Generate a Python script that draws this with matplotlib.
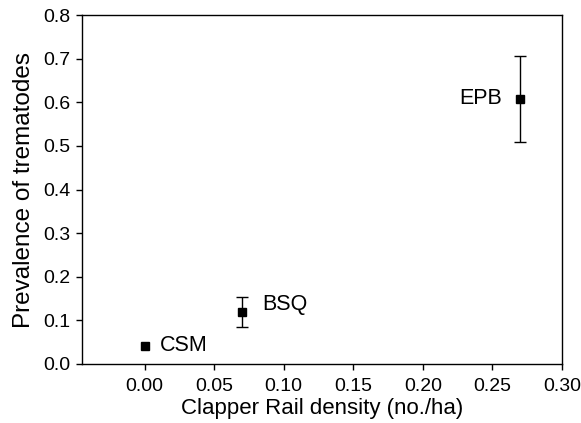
import matplotlib
matplotlib.use("Agg")
import matplotlib.pyplot as plt

plt.rcParams['font.family'] = ['Liberation Sans', 'DejaVu Sans']

sites = ["CSM", "BSQ", "EPB"]
density = [0.0, 0.07, 0.27]
prevalence = [0.041, 0.119, 0.608]
err = [0.0, 0.034, 0.098]

fig = plt.figure(figsize=(5.81, 4.23), dpi=100)
ax = fig.add_axes([0.1411, 0.1395, 0.8262, 0.825])

has_err = [i for i, e in enumerate(err) if e > 0]
ax.errorbar([density[i] for i in has_err], [prevalence[i] for i in has_err],
            yerr=[err[i] for i in has_err], fmt='none', ecolor='black',
            capsize=4.5, elinewidth=1.0, capthick=1.0)
ax.plot(density, prevalence, 's', color='black', markersize=6.3, zorder=3)

ax.text(density[0] + 0.011, prevalence[0] + 0.002, sites[0], fontsize=15.5, va='center', ha='left')
ax.text(density[1] + 0.0145, prevalence[1] + 0.018, sites[1], fontsize=15.5, va='center', ha='left')
ax.text(density[2] - 0.013, prevalence[2] + 0.001, sites[2], fontsize=15.5, va='center', ha='right')

ax.set_xlim(-0.045, 0.30)
ax.set_ylim(0.0, 0.8)
ax.set_xticks([0.0, 0.05, 0.10, 0.15, 0.20, 0.25, 0.30])
ax.set_xticklabels(["0.00", "0.05", "0.10", "0.15", "0.20", "0.25", "0.30"])
ax.set_yticks([0.0, 0.1, 0.2, 0.3, 0.4, 0.5, 0.6, 0.7, 0.8])
ax.set_yticklabels(["0.0", "0.1", "0.2", "0.3", "0.4", "0.5", "0.6", "0.7", "0.8"])
ax.tick_params(direction='out', length=4, width=1, labelsize=14, colors='black', pad=4)
ax.tick_params(axis='x', pad=6)
ax.tick_params(top=False, right=False)
for s in ax.spines.values():
    s.set_linewidth(1.0)

ax.set_xlabel("Clapper Rail density (no./ha)", fontsize=16, labelpad=2)
ax.set_ylabel("Prevalence of trematodes", fontsize=17.5, labelpad=6)

fig.savefig("out.png", dpi=100)
